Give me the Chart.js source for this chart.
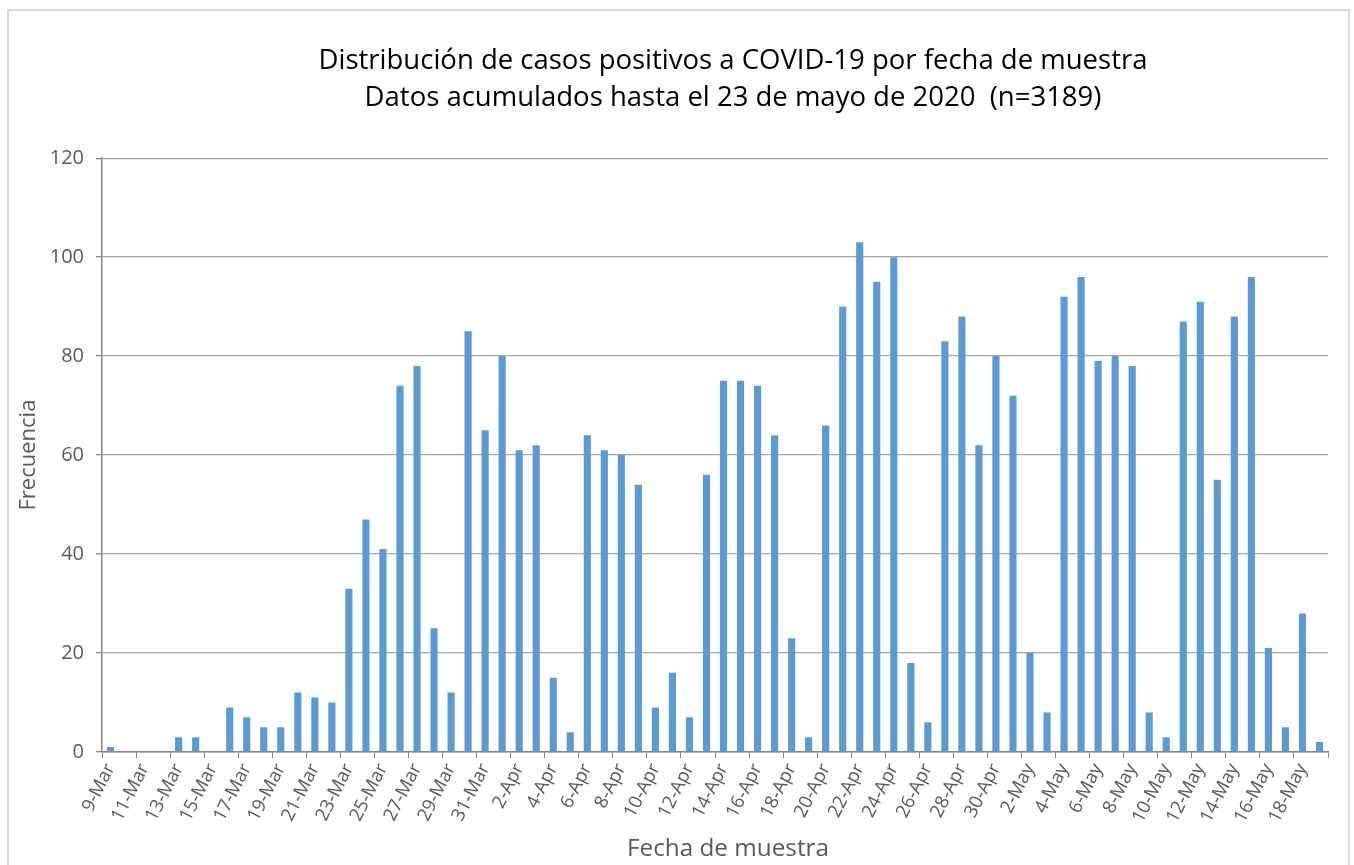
<!DOCTYPE html>
<html>
<head>
<meta charset="utf-8">
<script src="https://cdn.jsdelivr.net/npm/chart.js@4.4.1/dist/chart.umd.min.js"></script>
<style>
  html, body { margin: 0; padding: 0; background: #ffffff; overflow: hidden; }
  #wrap { position: relative; width: 1354px; height: 865px; }
  #frame { position: absolute; left: 7px; top: 9px; width: 1343px; height: 900px;
           border: 2px solid #d9d9d9; box-sizing: border-box; }
  #c { position: absolute; left: 0; top: 0; }
</style>
</head>
<body>
<div id="wrap">
  <div id="frame"></div>
  <canvas id="c" width="1354" height="865"></canvas>
</div>
<script>
// ---- Data ----
const titleLines = [
  "Distribución de casos positivos a COVID-19 por fecha de muestra",
  "Datos acumulados hasta el 23 de mayo de 2020  (n=3189)"
];
const xAxisTitle = "Fecha de muestra";
const yAxisTitle = "Frecuencia";

const dates = [
  "9-Mar","10-Mar","11-Mar","12-Mar","13-Mar","14-Mar","15-Mar","16-Mar","17-Mar","18-Mar",
  "19-Mar","20-Mar","21-Mar","22-Mar","23-Mar","24-Mar","25-Mar","26-Mar","27-Mar","28-Mar",
  "29-Mar","30-Mar","31-Mar","1-Apr","2-Apr","3-Apr","4-Apr","5-Apr","6-Apr","7-Apr",
  "8-Apr","9-Apr","10-Apr","11-Apr","12-Apr","13-Apr","14-Apr","15-Apr","16-Apr","17-Apr",
  "18-Apr","19-Apr","20-Apr","21-Apr","22-Apr","23-Apr","24-Apr","25-Apr","26-Apr","27-Apr",
  "28-Apr","29-Apr","30-Apr","1-May","2-May","3-May","4-May","5-May","6-May","7-May",
  "8-May","9-May","10-May","11-May","12-May","13-May","14-May","15-May","16-May","17-May",
  "18-May","19-May"
];

const casos = [
  1, 0, 0, 0, 3, 3, 0, 9, 7, 5,
  5, 12, 11, 10, 33, 47, 41, 74, 78, 25,
  12, 85, 65, 80, 61, 62, 15, 4, 64, 61,
  60, 54, 9, 16, 7, 56, 75, 75, 74, 64,
  23, 3, 66, 90, 103, 95, 100, 18, 6, 83,
  88, 62, 80, 72, 20, 8, 92, 96, 79, 80,
  78, 8, 3, 87, 91, 55, 88, 96, 21, 5,
  28, 2
];

const yMin = 0, yMax = 120, yStep = 20;

// ---- Styles ----
const FONT = "'Open Sans', 'DejaVu Sans', sans-serif";
const TEXT_GREY = '#595959';
const GRID = '#a6a6a6';
const AXIS = '#868686';
const BAR = '#5b9bd5';

const PLOT_LEFT = 102, PLOT_BOTTOM = 752, TITLE_CENTER = 733, XTITLE_SHIFT = 13;

const titleShift = {
  id: 'titleShift',
  afterLayout(chart) {
    const t = chart.titleBlock;
    if (t) {
      const d = TITLE_CENTER - (t.left + t.right) / 2;
      t.left += d; t.right += d;
    }
    const xs = chart.scales.x;
    if (xs && !xs._shiftedTitle) {
      const orig = xs.drawTitle;
      xs.drawTitle = function () {
        const l = this.left, r = this.right;
        this.left = l + XTITLE_SHIFT; this.right = r + XTITLE_SHIFT;
        orig.apply(this, arguments);
        this.left = l; this.right = r;
      };
      xs._shiftedTitle = true;
    }
  }
};

new Chart(document.getElementById('c'), {
  type: 'bar',
  data: {
    labels: dates,
    datasets: [{
      label: 'Casos',
      data: casos,
      backgroundColor: BAR,
      borderWidth: 0,
      barPercentage: 0.42,
      categoryPercentage: 1.0
    }]
  },
  options: {
    responsive: false,
    animation: false,
    devicePixelRatio: 1,
    layout: { padding: { left: 16, right: 26, top: 0, bottom: 0 } },
    plugins: {
      legend: { display: false },
      tooltip: { enabled: false },
      title: {
        display: true,
        text: titleLines,
        color: '#000000',
        font: { family: FONT, size: 27.5, weight: 'normal', lineHeight: 1.33 },
        padding: { top: 43, bottom: 42 }
      }
    },
    scales: {
      x: {
        offset: true,
        grid: {
          offset: true,
          drawOnChartArea: false,
          drawTicks: true,
          tickLength: 6,
          lineWidth: 1,
          color: (ctx) => (ctx.index === undefined || ctx.index % 2 === 0) ? AXIS : 'rgba(0,0,0,0)'
        },
        border: { display: true, color: AXIS, width: 1.5 },
        ticks: {
          autoSkip: false,
          minRotation: 63,
          maxRotation: 63,
          padding: 2,
          color: TEXT_GREY,
          font: { family: FONT, size: 18.5 },
          callback: function (value, index) { return index % 2 === 0 ? this.getLabelForValue(value) : ''; }
        },
        title: {
          display: true,
          text: xAxisTitle,
          color: TEXT_GREY,
          font: { family: FONT, size: 24.3 },
          padding: { top: 0, bottom: 1 }
        },
        afterFit: (scale) => { scale.height = 865 - PLOT_BOTTOM; }
      },
      y: {
        min: yMin,
        max: yMax,
        ticks: {
          stepSize: yStep,
          padding: 12,
          color: TEXT_GREY,
          font: { family: FONT, size: 20 }
        },
        grid: {
          color: GRID,
          lineWidth: 1.3,
          tickColor: AXIS,
          tickLength: 6
        },
        border: { display: true, color: AXIS, width: 1.5 },
        title: {
          display: true,
          text: yAxisTitle,
          color: TEXT_GREY,
          font: { family: FONT, size: 22 },
          padding: { top: 0, bottom: 0 }
        },
        afterFit: (scale) => { scale.width = PLOT_LEFT - 16; }
      }
    }
  },
  plugins: [titleShift]
});
</script>
</body>
</html>
